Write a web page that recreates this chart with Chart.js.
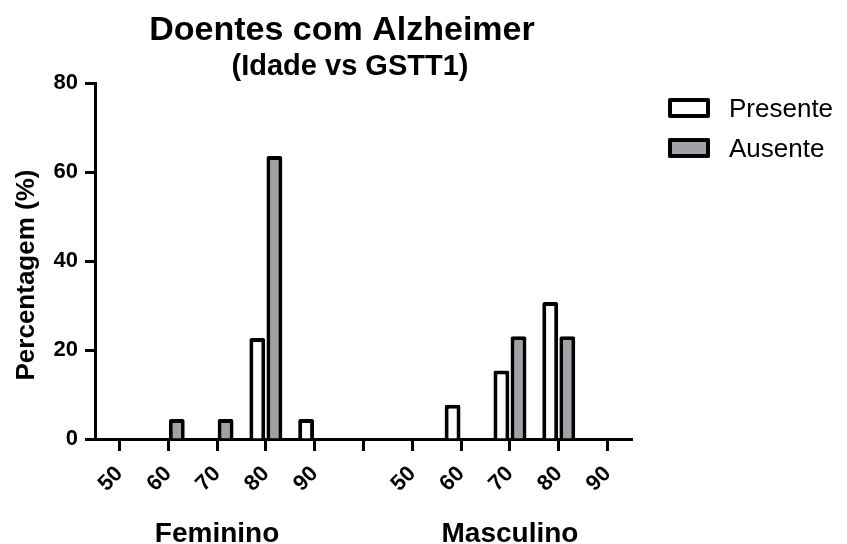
<!DOCTYPE html>
<html>
<head>
<meta charset="utf-8">
<script src="https://cdn.jsdelivr.net/npm/chart.js@4/dist/chart.umd.min.js"></script>
<style>
  html, body { margin: 0; padding: 0; background: #ffffff; }
  canvas { display: block; }
</style>
</head>
<body>
<canvas id="chart" width="847" height="544"></canvas>
<script>
// Age bands per sex; the empty slot separates the two groups
const ageLabels = ['50', '60', '70', '80', '90', '', '50', '60', '70', '80', '90'];
const groupNames = ['Feminino', 'Masculino'];
const groupCenterIndex = [2, 8];
const seriesNames = ['Presente', 'Ausente'];
const presente = [0, 0, 0, 22.7, 4.5, null, 0, 7.7, 15.4, 30.8, 0];
const ausente = [0, 4.5, 4.5, 63.6, 0, null, 0, 0, 23.1, 23.1, 0];
const yMin = 0, yMax = 80, yStep = 20;

const titleText = 'Doentes com Alzheimer';
const subtitleText = '(Idade vs GSTT1)';
const yTitleText = 'Percentagem (%)';

const FONT = '"Liberation Sans", Arial, Helvetica, sans-serif';
const INK = '#000000';
const GREY = '#a0a0a6';

// Titles, axis title, group names and legend drawn on top of the chart
const decorations = {
  id: 'decorations',
  afterDraw(chart) {
    const { ctx } = chart;
    const x = chart.scales.x;
    ctx.save();
    ctx.fillStyle = INK;
    ctx.textAlign = 'center';
    ctx.textBaseline = 'alphabetic';

    ctx.font = `bold 34px ${FONT}`;
    ctx.fillText(titleText, 342, 40);
    ctx.font = `bold 29px ${FONT}`;
    ctx.fillText(subtitleText, 350, 75);

    ctx.font = `bold 28px ${FONT}`;
    groupNames.forEach((name, i) => {
      ctx.fillText(name, x.getPixelForValue(groupCenterIndex[i]), 542);
    });

    ctx.save();
    ctx.translate(34, 275);
    ctx.rotate(-Math.PI / 2);
    ctx.font = `bold 26px ${FONT}`;
    ctx.fillText(yTitleText, 0, 0);
    ctx.restore();

    // legend
    ctx.textAlign = 'left';
    ctx.font = `26px ${FONT}`;
    chart.data.datasets.forEach((ds, i) => {
      const bx = 668, by = 98 + i * 40, bw = 42, bh = 20, lw = 4;
      ctx.fillStyle = ds.backgroundColor;
      ctx.fillRect(bx, by, bw, bh);
      ctx.strokeStyle = INK;
      ctx.lineWidth = lw;
      ctx.lineJoin = 'round';
      ctx.strokeRect(bx + lw / 2, by + lw / 2, bw - lw, bh - lw);
      ctx.fillStyle = INK;
      ctx.fillText(ds.label, 729, by + 19);
    });
    ctx.restore();
  }
};

const barStyle = {
  borderColor: INK,
  borderWidth: 4,
  borderSkipped: 'start',
  borderRadius: { topLeft: 2, topRight: 2 },
  categoryPercentage: 0.7,
  barPercentage: 0.93
};

new Chart(document.getElementById('chart'), {
  type: 'bar',
  data: {
    labels: ageLabels,
    datasets: [
      Object.assign({ label: seriesNames[0], data: presente, backgroundColor: '#ffffff' }, barStyle),
      Object.assign({ label: seriesNames[1], data: ausente, backgroundColor: GREY }, barStyle)
    ]
  },
  options: {
    responsive: false,
    animation: false,
    devicePixelRatio: 1,
    layout: { padding: { top: 83, right: 215, bottom: 0, left: 0 } },
    plugins: {
      legend: { display: false },
      title: { display: false },
      tooltip: { enabled: false }
    },
    scales: {
      x: {
        z: 1,
        offset: true,
        afterFit(scale) { scale.height = 105; },
        grid: {
          offset: false,
          drawOnChartArea: false,
          drawTicks: true,
          tickLength: 12,
          tickWidth: 3,
          tickColor: INK
        },
        border: { display: true, color: INK, width: 3 },
        ticks: {
          autoSkip: false,
          minRotation: 45,
          maxRotation: 45,
          padding: 10,
          color: INK,
          font: { family: FONT, size: 22, weight: 'bold' }
        }
      },
      y: {
        min: yMin,
        max: yMax,
        afterFit(scale) { scale.width = 95; },
        grid: {
          drawOnChartArea: false,
          drawTicks: true,
          tickLength: 10,
          tickWidth: 3,
          tickColor: INK
        },
        border: { display: true, color: INK, width: 3 },
        ticks: {
          stepSize: yStep,
          padding: 7,
          color: INK,
          font: { family: FONT, size: 22, weight: 'bold' }
        }
      }
    }
  },
  plugins: [decorations]
});
</script>
</body>
</html>
